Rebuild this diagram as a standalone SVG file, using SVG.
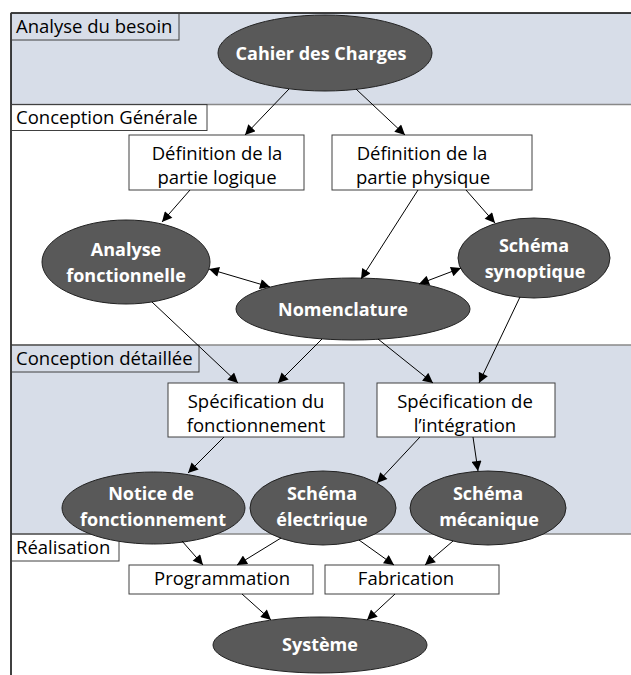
<svg xmlns="http://www.w3.org/2000/svg" width="631" height="675" viewBox="0 0 631 675">
<defs>
<marker id="ah" viewBox="0 0 10 10" refX="10" refY="5" markerWidth="11" markerHeight="10" markerUnits="userSpaceOnUse" orient="auto-start-reverse">
<path d="M0,0 L10,5 L0,10 z" fill="#000"/>
</marker>
<style>
.band{fill:#d7dde8;}
.bline{stroke:#888;stroke-width:1.5;fill:none;}
.lab{fill:none;stroke:#404040;stroke-width:1;}
.labt{font-family:"Open Sans","Liberation Sans",sans-serif;font-size:18.5px;fill:#000;}
.box{fill:#fff;stroke:#404040;stroke-width:1;}
.bt{font-family:"Open Sans","Liberation Sans",sans-serif;font-size:18.5px;fill:#000;text-anchor:middle;}
.ell{fill:#595959;stroke:#222;stroke-width:1;}
.et{font-family:"Open Sans","Liberation Sans",sans-serif;font-size:18px;font-weight:bold;fill:#fff;text-anchor:middle;}
.c{stroke:#000;stroke-width:1;fill:none;marker-end:url(#ah);}
.cc{stroke:#000;stroke-width:1;fill:none;marker-end:url(#ah);marker-start:url(#ah);}
</style>
</defs>
<g id="lanes">
<rect class="band" x="11" y="13" width="620" height="91"/>
<rect class="band" x="11" y="345" width="620" height="189"/>
<line class="bline" x1="11" y1="104.5" x2="631" y2="104.5"/>
<line class="bline" x1="11" y1="345" x2="631" y2="345"/>
<line class="bline" x1="11" y1="534" x2="631" y2="534"/>
<line x1="11" y1="13" x2="631" y2="13" stroke="#000" stroke-width="1.5"/>
<line x1="11" y1="13" x2="11" y2="675" stroke="#000" stroke-width="1.5"/>
<rect class="lab" x="11" y="13" width="168" height="27"/>
<text class="labt" x="16" y="33">Analyse du besoin</text>
<rect class="lab" x="11" y="104.5" width="196" height="26"/>
<text class="labt" x="16" y="124">Conception Générale</text>
<rect class="lab" x="11" y="345" width="188" height="27"/>
<text class="labt" x="16" y="365">Conception détaillée</text>
<rect class="lab" x="11" y="534" width="108" height="27"/>
<text class="labt" x="16" y="554">Réalisation</text>
</g>
<g id="cahier">
<ellipse class="ell" cx="325" cy="53" rx="107" ry="38"/>
<text class="et" x="321" y="60">Cahier des Charges</text>
</g>
<g id="def-logique">
<rect class="box" x="129" y="135" width="175" height="55"/>
<text class="bt" x="217" y="160">Définition de la</text>
<text class="bt" x="217" y="184">partie logique</text>
</g>
<g id="def-physique">
<rect class="box" x="332" y="135" width="200" height="55"/>
<text class="bt" x="422" y="160">Définition de la</text>
<text class="bt" x="423" y="184">partie physique</text>
</g>
<g id="analyse-fonct">
<ellipse class="ell" cx="126" cy="262" rx="84" ry="42"/>
<text class="et" x="126" y="256">Analyse</text>
<text class="et" x="126" y="282">fonctionnelle</text>
</g>
<g id="schema-synoptique">
<ellipse class="ell" cx="534" cy="258" rx="76" ry="40"/>
<text class="et" x="534" y="252">Schéma</text>
<text class="et" x="535" y="278">synoptique</text>
</g>
<g id="nomenclature">
<ellipse class="ell" cx="353" cy="309" rx="117" ry="31"/>
<text class="et" x="343" y="316">Nomenclature</text>
</g>
<g id="spec-fonct">
<rect class="box" x="168" y="383" width="176" height="54"/>
<text class="bt" x="256" y="408">Spécification du</text>
<text class="bt" x="256" y="432">fonctionnement</text>
</g>
<g id="spec-integ">
<rect class="box" x="377" y="383" width="178" height="54"/>
<text class="bt" x="465" y="408">Spécification de</text>
<text class="bt" x="465" y="432">l’intégration</text>
</g>
<g id="notice">
<ellipse class="ell" cx="153.5" cy="508" rx="91.5" ry="36"/>
<text class="et" x="151" y="500">Notice de</text>
<text class="et" x="153" y="526">fonctionnement</text>
</g>
<g id="schema-elec">
<ellipse class="ell" cx="323" cy="508" rx="73" ry="37"/>
<text class="et" x="322" y="500">Schéma</text>
<text class="et" x="322" y="526">électrique</text>
</g>
<g id="schema-meca">
<ellipse class="ell" cx="488" cy="508" rx="78" ry="37"/>
<text class="et" x="488" y="500">Schéma</text>
<text class="et" x="489" y="526">mécanique</text>
</g>
<g id="programmation">
<rect class="box" x="129" y="565" width="184" height="29"/>
<text class="bt" x="222" y="585">Programmation</text>
</g>
<g id="fabrication">
<rect class="box" x="325" y="565" width="174" height="29"/>
<text class="bt" x="406" y="585">Fabrication</text>
</g>
<g id="systeme">
<ellipse class="ell" cx="320" cy="645" rx="107" ry="28"/>
<text class="et" x="320" y="651">Système</text>
</g>
<g id="connectors">
<line class="c" x1="289" y1="89" x2="245" y2="135"/>
<line class="c" x1="356" y1="89" x2="405" y2="135"/>
<line class="c" x1="190" y1="190" x2="162" y2="222"/>
<line class="c" x1="418" y1="190" x2="361" y2="279"/>
<line class="c" x1="466" y1="190" x2="495" y2="223"/>
<line class="cc" x1="209" y1="269" x2="270" y2="287"/>
<line class="cc" x1="419" y1="284" x2="461" y2="268"/>
<line class="c" x1="152" y1="302" x2="238" y2="383"/>
<line class="c" x1="322" y1="339" x2="278" y2="383"/>
<line class="c" x1="378" y1="339" x2="433" y2="383"/>
<line class="c" x1="520" y1="297" x2="479" y2="383"/>
<line class="c" x1="224" y1="437" x2="188" y2="473"/>
<line class="c" x1="420" y1="437" x2="377" y2="483"/>
<line class="c" x1="473" y1="437" x2="478" y2="471"/>
<line class="c" x1="182" y1="541" x2="203" y2="565"/>
<line class="c" x1="281" y1="538" x2="237" y2="565"/>
<line class="c" x1="359" y1="540" x2="394" y2="565"/>
<line class="c" x1="453" y1="541" x2="425" y2="565"/>
<line class="c" x1="242" y1="594" x2="271" y2="620"/>
<line class="c" x1="395" y1="594" x2="367" y2="620"/>
</g>
</svg>
